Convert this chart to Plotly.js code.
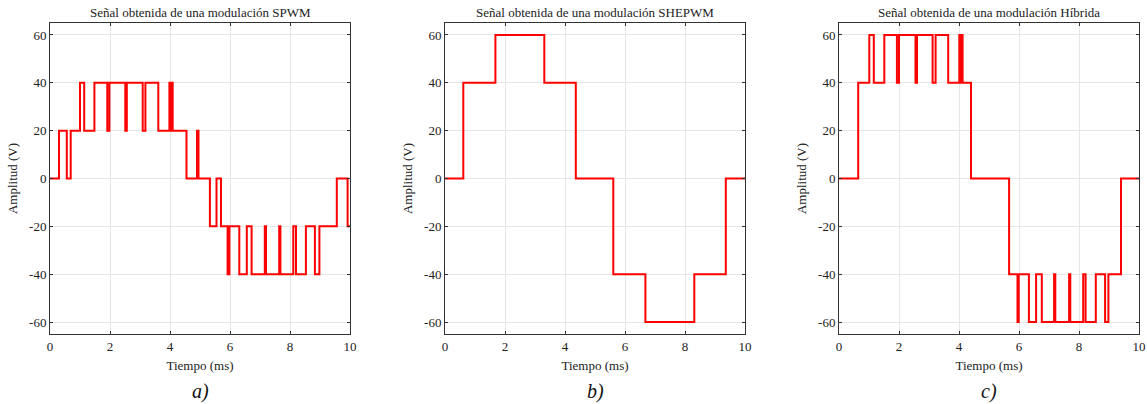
<!DOCTYPE html>
<html>
<head>
<meta charset="utf-8">
<script src="https://cdn.plot.ly/plotly-3.0.1.min.js"></script>
<style>html,body{margin:0;padding:0;background:#fff;}#chart{width:1147px;height:404px;}</style>
</head>
<body>
<div id="chart"></div>
<script>
// ---- Data (step waveforms: switching instants in ms, level after each instant in V) ----
const spwmT = [0, 0.30, 0.56, 0.69, 1.00, 1.14, 1.48, 1.91, 1.98, 2.51, 2.56, 3.09, 3.18, 3.61, 3.98, 4.01, 4.05, 4.09, 4.55, 4.90, 4.95, 5.33, 5.55, 5.70, 5.92, 5.98, 6.31, 6.56, 6.72, 7.16, 7.20, 7.64, 7.68, 8.11, 8.20, 8.53, 8.83, 8.98, 9.56, 9.92, 10];
const spwmV = [0, 20, 0, 20, 40, 20, 40, 20, 40, 20, 40, 20, 40, 20, 40, 20, 40, 20, 0, 20, 0, -20, 0, -20, -40, -20, -40, -20, -40, -20, -40, -20, -40, -20, -40, -20, -40, -20, 0, -20, -20];

const shepwmT = [0, 0.61, 1.68, 3.31, 4.36, 5.61, 6.68, 8.31, 9.36, 10];
const shepwmV = [0, 40, 60, 40, 0, -40, -60, -40, 0, 0];

const hibT = [0, 0.64, 1.01, 1.16, 1.51, 1.93, 2.00, 2.55, 2.60, 3.12, 3.22, 3.64, 4.01, 4.04, 4.08, 4.12, 4.40, 5.67, 5.95, 5.99, 6.33, 6.57, 6.76, 7.17, 7.21, 7.67, 7.71, 8.14, 8.22, 8.56, 8.87, 8.98, 9.40, 10];
const hibV = [0, 40, 60, 40, 60, 40, 60, 40, 60, 40, 60, 40, 60, 40, 60, 40, 0, -40, -60, -40, -60, -40, -60, -40, -60, -40, -60, -40, -60, -40, -60, -40, 0, 0];

const titles = ["Señal obtenida de una modulación SPWM", "Señal obtenida de una modulación SHEPWM", "Señal obtenida de una modulación Híbrida"];
const panelLabels = ["a)", "b)", "c)"];
const yTickVals = [60, 40, 20, 0, -20, -40, -60];
const yTickText = ["60", "40", "20", "0", "-20", "-40", "-60"];
const xTickVals = [0, 2, 4, 6, 8, 10];
const xTickText = ["0", "2", "4", "6", "8", "10"];
const xTitle = "Tiempo (ms)";
const yTitle = "Amplitud (V)";

// ---- Layout ----
const W = 1147, H = 404;
const xpx = [[50, 350], [445, 745], [839, 1139]];
const ydom = [1 - 334 / H, 1 - 23 / H];
const FONT = "Liberation Serif, Times New Roman, serif";

const series = [[spwmT, spwmV], [shepwmT, shepwmV], [hibT, hibV]];
const traces = series.map((s, i) => ({
  x: s[0], y: s[1], type: "scatter", mode: "lines",
  line: {shape: "hv", color: "#ff0000", width: 2},
  xaxis: i === 0 ? "x" : "x" + (i + 1),
  yaxis: i === 0 ? "y" : "y" + (i + 1),
  hoverinfo: "skip", showlegend: false
}));

const layout = {
  width: W, height: H,
  margin: {l: 0, r: 0, t: 0, b: 0},
  paper_bgcolor: "#fff", plot_bgcolor: "#fff",
  font: {family: FONT, size: 13, color: "#222"},
  showlegend: false,
  annotations: []
};

for (let i = 0; i < 3; i++) {
  const xk = i === 0 ? "xaxis" : "xaxis" + (i + 1);
  const yk = i === 0 ? "yaxis" : "yaxis" + (i + 1);
  const yAnchor = i === 0 ? "y" : "y" + (i + 1);
  const xAnchor = i === 0 ? "x" : "x" + (i + 1);
  layout[xk] = {
    domain: [xpx[i][0] / W, xpx[i][1] / W], anchor: yAnchor,
    range: [0, 10], tickvals: xTickVals, ticktext: xTickText,
    ticks: "inside", ticklen: 3, tickcolor: "#333", tickwidth: 1,
    showline: true, linecolor: "#333", linewidth: 1, mirror: "ticks",
    showgrid: true, gridcolor: "#e6e6e6", gridwidth: 1, zeroline: false,
    tickfont: {family: FONT, size: 13, color: "#222"},
    title: {text: xTitle, font: {family: FONT, size: 13, color: "#222"}, standoff: 8}
  };
  layout[yk] = {
    domain: ydom, anchor: xAnchor,
    range: [-65, 65], tickvals: yTickVals, ticktext: yTickText,
    ticks: "inside", ticklen: 3, tickcolor: "#333", tickwidth: 1,
    showline: true, linecolor: "#333", linewidth: 1, mirror: "ticks",
    showgrid: true, gridcolor: "#e6e6e6", gridwidth: 1, zeroline: false,
    tickfont: {family: FONT, size: 13, color: "#222"},
    title: {text: yTitle, font: {family: FONT, size: 13, color: "#222"}, standoff: 8}
  };
  const cx = (xpx[i][0] + xpx[i][1]) / 2 / W;
  layout.annotations.push({
    text: titles[i], xref: "paper", yref: "paper", x: cx, y: 1 - 12 / H,
    xanchor: "center", yanchor: "middle", showarrow: false,
    font: {family: FONT, size: 13, color: "#222"}
  });
  layout.annotations.push({
    text: "<i>" + panelLabels[i] + "</i>", xref: "paper", yref: "paper", x: cx, y: 1 - 391 / H,
    xanchor: "center", yanchor: "middle", showarrow: false,
    font: {family: FONT, size: 20, color: "#111"}
  });
}

Plotly.newPlot("chart", traces, layout, {staticPlot: true, displayModeBar: false});
</script>
</body>
</html>
